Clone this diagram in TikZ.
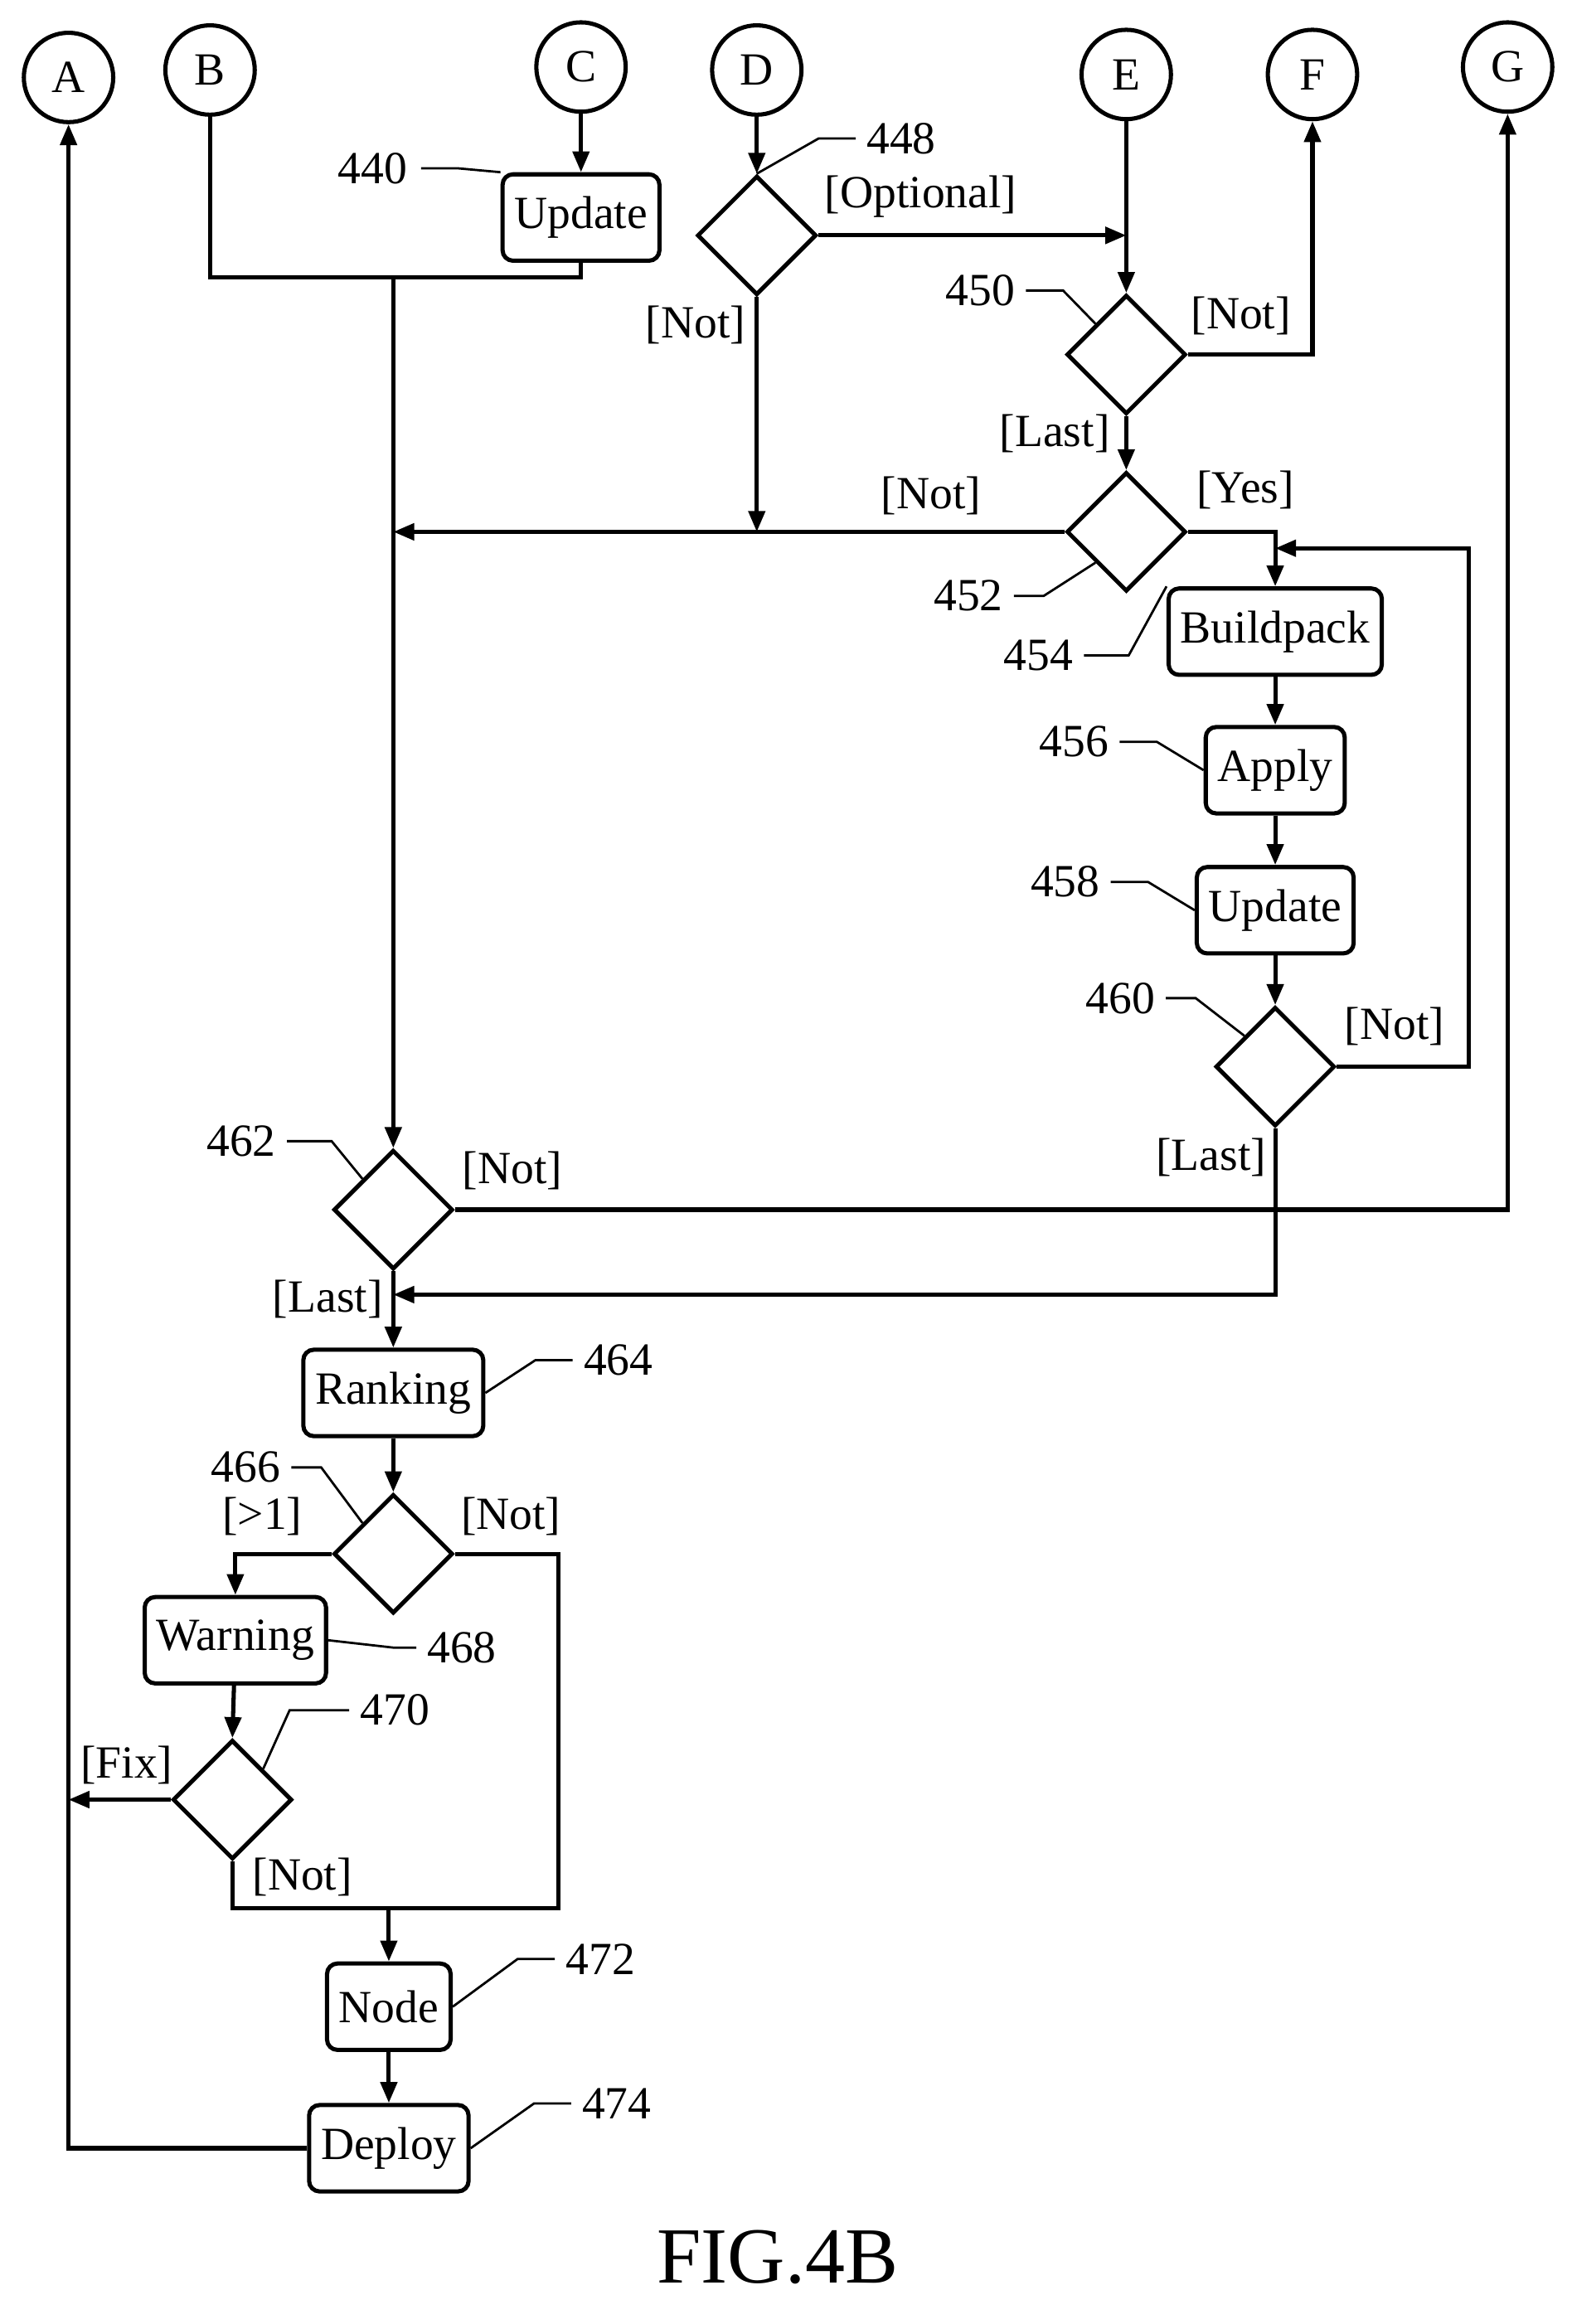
\documentclass[tikz,border=0pt]{standalone}
\usepackage{fontspec}
\setmainfont{Liberation Serif}
\usetikzlibrary{shapes.geometric,arrows.meta}
\begin{document}
\begin{tikzpicture}[x=0.05cm,y=-0.05cm,line width=4pt,
 every node/.style={font=\fontsize{44}{50}\selectfont},
 circ/.style={draw,circle,minimum size=3cm,inner sep=0pt},
 box/.style={draw,rounded corners=10pt,minimum height=2.9cm,inner xsep=0.4cm,inner ysep=0.2cm},
 dia/.style={draw,diamond,minimum width=4cm,minimum height=4cm,inner sep=0pt},
 lbl/.style={inner sep=0pt},
 ar/.style={-{Triangle[length=0.7cm,width=0.55cm]}}]
\useasboundingbox (0,0) rectangle (1055,1560);
\node[circ] (A) at (46,52) {A};
\node[circ] (B) at (141,47) {B};
\node[circ] (C) at (390,45) {C};
\node[circ] (D) at (508,47) {D};
\node[circ] (E) at (756,50) {E};
\node[circ] (F) at (881,50) {F};
\node[circ] (G) at (1012,45) {G};
\node[box] (up1) at (390,146) {Update};
\node[dia] (d448) at (508,158) {};
\node[dia] (d450) at (756,238) {};
\node[dia] (d452) at (756,357) {};
\node[box] (bp) at (856,424) {Buildpack};
\node[box] (ap) at (856,517) {Apply};
\node[box] (up2) at (856,611) {Update};
\node[dia] (d460) at (856,716) {};
\node[dia] (d462) at (264,812) {};
\node[box] (rk) at (264,935) {Ranking};
\node[dia] (d466) at (264,1043) {};
\node[box] (wr) at (158,1101) {Warning};
\node[dia] (d470) at (156,1208) {};
\node[box] (nd) at (261,1347) {Node};
\node[box] (dp) at (261,1442) {Deploy};
\node[lbl] at (522,1515) {\fontsize{76}{82}\selectfont FIG.4B};
% numbers
\node[lbl] (n440) at (250,113) {440};
\node[lbl] (n448) at (605,93) {448};
\node[lbl] (n450) at (658,195) {450};
\node[lbl] (n452) at (650,400) {452};
\node[lbl] (n454) at (697,440) {454};
\node[lbl] (n456) at (721,498) {456};
\node[lbl] (n458) at (715,592) {458};
\node[lbl] (n460) at (752,670) {460};
\node[lbl] (n462) at (162,766) {462};
\node[lbl] (n464) at (415,913) {464};
\node[lbl] (n466) at (165,985) {466};
\node[lbl] (n468) at (310,1106) {468};
\node[lbl] (n470) at (265,1148) {470};
\node[lbl] (n472) at (403,1315) {472};
\node[lbl] (n474) at (414,1412) {474};
\begin{scope}[line width=2.2pt]
\draw (n440.east)++(8,0) -- ++(25,0) -- (up1.north west);
\draw (n448.west)++(-6,0) -- ++(-25,0) -- (d448.north);
\draw (n450.east)++(6,0) -- ++(25,0) -- (d450.north west);
\draw (n452.east)++(6,0) -- ++(20,0) -- (d452.south west);
\draw (n454.east)++(6,0) -- ++(30,0) -- (bp.north west);
\draw (n456.east)++(6,0) -- ++(25,0) -- (ap.west);
\draw (n458.east)++(6,0) -- ++(25,0) -- (up2.west);
\draw (n460.east)++(6,0) -- ++(20,0) -- (d460.north west);
\draw (n462.east)++(6,0) -- ++(30,0) -- (d462.north west);
\draw (n464.west)++(-6,0) -- ++(-25,0) -- (rk.east);
\draw (n466.east)++(6,0) -- ++(20,0) -- (d466.north west);
\draw (n468.west)++(-6,0) -- ++(-15,0) -- (wr.east);
\draw (n470.west)++(-6,0) -- ++(-40,0) -- (d470.north east);
\draw (n472.west)++(-6,0) -- ++(-25,0) -- (nd.east);
\draw (n474.west)++(-6,0) -- ++(-25,0) -- (dp.east);
\end{scope}
% branch labels
\node[lbl] at (618,132) {[Optional]};
\node[lbl] at (467,218) {[Not]};
\node[lbl] at (833,212) {[Not]};
\node[lbl] at (708,291) {[Last]};
\node[lbl] at (625,333) {[Not]};
\node[lbl] at (836,329) {[Yes]};
\node[lbl] at (936,689) {[Not]};
\node[lbl] at (813,777) {[Last]};
\node[lbl] at (344,786) {[Not]};
\node[lbl] at (220,872) {[Last]};
\node[lbl] at (176,1018) {[>1]};
\node[lbl] at (343,1018) {[Not]};
\node[lbl] at (85,1185) {[Fix]};
\node[lbl] at (203,1260) {[Not]};
% connectors
\coordinate (j1) at (264,186);
\draw (B.south) |- (j1) -| (up1.south);
\draw[ar] (j1) -- (d462.north);
\draw[ar] (C) -- (up1);
\draw[ar] (D) -- (d448.north);
\draw[ar] (d448.east) -- (756,158);
\draw[ar] (d448.south) -- (508,357);
\draw[ar] (E) -- (d450.north);
\draw[ar] (d450.east) -| (F.south);
\draw[ar] (d450.south) -- (d452.north);
\draw[ar] (d452.west) -- (264,357);
\draw[ar] (d452.east) -| (bp.north);
\draw[ar] (d460.east) -- (986,716) -- (986,368) -- (856,368);
\draw[ar] (bp) -- (ap);
\draw[ar] (ap) -- (up2);
\draw[ar] (up2) -- (d460.north);
\draw[ar] (d460.south) |- (264,869);
\draw[ar] (d462.east) -| (G.south);
\draw[ar] (d462.south) -- (rk.north);
\draw[ar] (rk) -- (d466.north);
\draw[ar] (d466.west) -| (wr.north);
\draw (d466.east) -| (375,1281) -- (156,1281) -- (d470.south);
\draw[ar] (wr) -- (d470.north);
\draw[ar] (d470.west) -- (46,1208);
\draw[ar] (nd.north |- 0,1281) -- (nd.north);
\draw[ar] (nd) -- (dp);
\draw[ar] (dp.west) -| (A.south);
\end{tikzpicture}
\end{document}
